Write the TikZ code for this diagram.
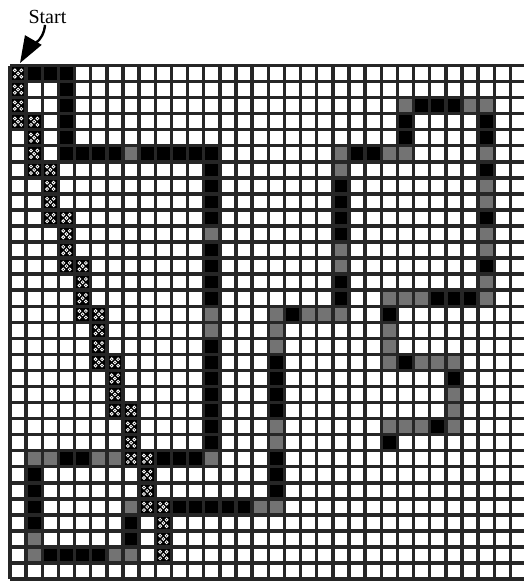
\documentclass[tikz,border=0pt]{standalone}
\usepackage{fontspec}
\setmainfont{Liberation Serif}
\usetikzlibrary{arrows.meta,positioning}

\tikzset{
  gridline/.style={line width=2.6pt, black!85},
  cellblack/.style={fill=black},
  cellgray/.style={fill=black!55},
  cellhatch/.style={fill=black},
  hatchdot/.style={draw=white, line width=0.6pt},
  startarrow/.style={line width=1.8pt, -{Triangle[length=20pt,width=14pt]}}
}

\begin{document}
\begin{tikzpicture}[x=12.11pt, y=-12.04pt]
\useasboundingbox (-0.619,-4.081) rectangle (31.827,32.118);
% path cells
\foreach \c/\r in {1/0,2/0,3/0,3/1,3/2,3/3,3/4,3/5,4/5,5/5,6/5,8/5,9/5,10/5,11/5,12/5,
    12/6,12/7,12/8,12/9,12/11,12/12,12/13,12/14,12/17,12/18,12/19,12/20,12/21,12/22,12/23,
    11/24,10/24,9/24,4/24,3/24,1/25,1/26,1/27,1/28,2/30,3/30,4/30,5/30,7/28,7/29,
    10/27,11/27,12/27,13/27,14/27,16/24,16/25,16/26,16/18,16/19,16/20,16/21,17/15,
    20/13,20/14,20/7,20/8,20/9,20/10,21/5,22/5,24/3,24/4,25/2,26/2,27/2,
    29/3,29/4,29/6,29/9,29/12,26/14,27/14,28/14,23/15,24/18,27/19,26/22,23/23}
  \fill[cellblack] (\c,\r) rectangle ++(1,1);
\foreach \c/\r in {7/5,12/10,12/15,12/16,12/24,6/24,5/24,2/24,1/24,1/29,1/30,6/30,7/30,7/27,
    15/27,16/27,16/23,16/22,16/17,16/16,16/15,18/15,19/15,20/15,20/12,20/11,20/6,20/5,
    23/5,24/5,24/2,28/2,29/2,29/5,29/7,29/8,29/10,29/11,29/13,29/14,25/14,24/14,23/14,
    23/16,23/17,23/18,25/18,26/18,27/18,27/20,27/21,27/22,25/22,24/22,23/22}
  \fill[cellgray] (\c,\r) rectangle ++(1,1);
% diagonal of hatched cells
\foreach \k in {0,...,9}
  \foreach \j in {0,...,3} {
    \fill[cellhatch] (\k,3*\k+\j) rectangle ++(1,1);
    \foreach \dx/\dy in {0.3/0.3,0.7/0.3,0.5/0.5,0.3/0.7,0.7/0.7}
      \draw[hatchdot] (\k+\dx,3*\k+\j+\dy) circle (1.1pt);
  }
% grid
\foreach \i in {0,...,32} {
  \draw[gridline] (\i,0) -- (\i,32);
  \draw[gridline] (0,\i) -- (32,\i);
}
% start label
\node[font=\fontsize{15}{18}\selectfont, inner sep=1pt] (start) at (2.32,-3.05) {Start};
\coordinate (startpt) at (0.62,-0.15);
\draw[startarrow] (start.south) ++(-0.15,0) to[out=-95, in=60] (startpt);
\end{tikzpicture}
\end{document}
